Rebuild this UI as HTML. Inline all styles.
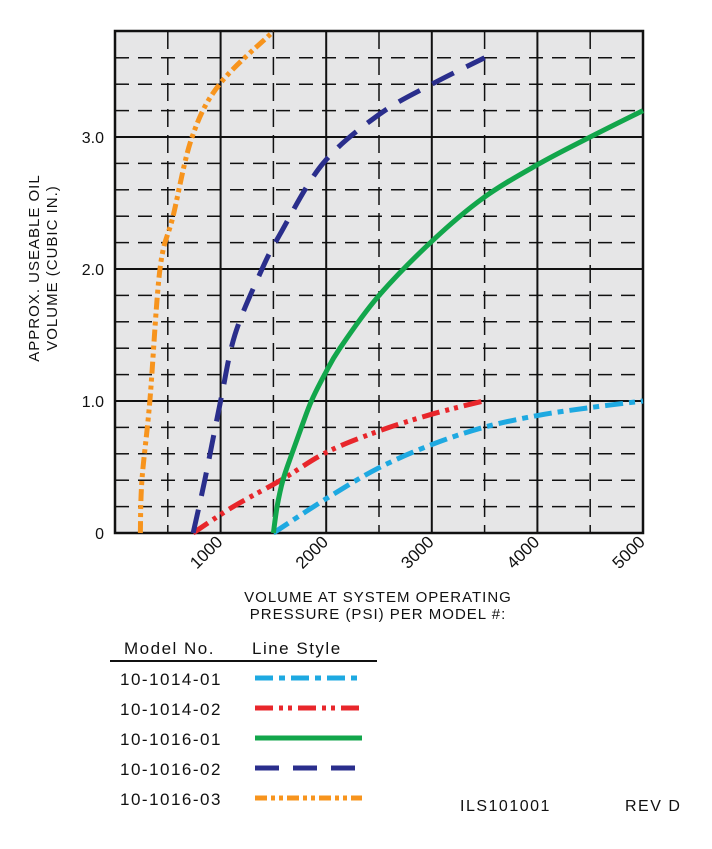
<!DOCTYPE html>
<html><head><meta charset="utf-8"><style>
body{margin:0;background:#fff;width:712px;height:844px;overflow:hidden}
svg text{font-family:"Liberation Sans",sans-serif;fill:#111}
</style></head><body>
<svg id="chart" width="712" height="844" xmlns="http://www.w3.org/2000/svg">
<g id="grid"></g>
<g id="series"></g>
<g id="axes"></g>
<text transform="translate(45,268) rotate(-90)" text-anchor="middle" font-size="15" letter-spacing="1"><tspan x="0" y="-6">APPROX. USEABLE OIL</tspan><tspan x="0" y="12">VOLUME (CUBIC IN.)</tspan></text>
<text text-anchor="middle" font-size="15" letter-spacing="1"><tspan x="378" y="602">VOLUME AT SYSTEM OPERATING</tspan><tspan x="378" y="619">PRESSURE (PSI) PER MODEL #:</tspan></text>
<g id="legend">
<text x="124" y="654" font-size="17" letter-spacing="1.5">Model No.</text>
<text x="252" y="654" font-size="17" letter-spacing="1.5">Line Style</text>
<line x1="110" y1="661" x2="377" y2="661" stroke="#111" stroke-width="2"/>
</g>
<text x="460" y="811" font-size="16" letter-spacing="1.5">ILS101001</text>
<text x="625" y="811" font-size="16" letter-spacing="1.5">REV D</text>
</svg>
<script>
const models=["10-1014-01","10-1014-02","10-1016-01","10-1016-02","10-1016-03"];
const colors=["#1ea9e1","#e8262b","#12a64b","#2a2e8c","#f7941d"];
const dashes=["18 6 6 6","18 6 4 5 4 6","none","24 14","12 4 4 4 4 4"];
const psi0=[1500,2000,2490,3000,3490,4000,4500,5000];
const vol0=[0,0.26,0.49,0.67,0.8,0.89,0.95,1.0];
const psi1=[740,1120,1570,2000,2490,3000,3490];
const vol1=[0,0.2,0.4,0.61,0.77,0.9,1.0];
const psi2=[1500,1535,1590,1675,1765,1860,1985,2130,2490,3000,3490,4000,4500,5000];
const vol2=[0,0.2,0.4,0.6,0.8,1.0,1.2,1.4,1.79,2.21,2.54,2.79,3.0,3.2];
const psi3=[740,850,1000,1135,1370,1560,1970,2500,3000,3500];
const vol3=[0,0.4,1.0,1.5,1.96,2.26,2.8,3.17,3.4,3.6];
const psi4=[240,255,330,426,550,730,990,1500];
const vol4=[0,0.4,1.0,2.0,2.4,3.0,3.4,3.8];
const xTicks=[1000,2000,3000,4000,5000];
const yTicks=[0,1.0,2.0,3.0];
const yTickLabels=["0","1.0","2.0","3.0"];
const X0=115,X1=643,Y0=533,YT=31;
const xs=v=>X0+v*(X1-X0)/5000;
const ys=v=>Y0-v*132;
const NS="http://www.w3.org/2000/svg";
function mk(t,a,p){const e=document.createElementNS(NS,t);for(const k in a)e.setAttribute(k,a[k]);p.appendChild(e);return e;}
const grid=document.getElementById('grid');
const bg=mk('rect',{x:X0,y:YT,width:X1-X0,height:Y0-YT,fill:'#e6e6e7'},grid);


for(let v=0.2;v<3.8;v+=0.2){const major=Math.abs(v-Math.round(v))<1e-6;
 const l=mk('line',{x1:X0,x2:X1,y1:ys(v),y2:ys(v),stroke:'#111','stroke-width':major?2:1.5,'stroke-dasharray':major?'none':'14 9'},grid);
 
 }
for(let p=500;p<5000;p+=500){const major=p%1000===0;
 const l=mk('line',{x1:xs(p),x2:xs(p),y1:YT,y2:Y0,stroke:'#111','stroke-width':major?2:1.5,'stroke-dasharray':major?'none':'18 8'},grid);
 
 }
const fr=mk('rect',{x:X0,y:YT,width:X1-X0,height:Y0-YT,fill:'none',stroke:'#111','stroke-width':2.5},grid);


const axes=document.getElementById('axes');
yTicks.forEach((v,i)=>{const t=mk('text',{x:104,y:ys(v)+6,'text-anchor':'end','font-size':16},axes);t.textContent=yTickLabels[i];
 
 });
xTicks.forEach(v=>{const t=mk('text',{transform:`translate(${xs(v)+3},${Y0+10}) rotate(-45)`,'text-anchor':'end','font-size':17},axes);t.textContent=v;
 
 });
function path(P,V){const pts=P.map((p,i)=>[xs(p),ys(V[i])]);let d=`M${pts[0][0]},${pts[0][1]}`;
 for(let i=0;i<pts.length-1;i++){const p0=pts[i-1]||pts[i],p1=pts[i],p2=pts[i+1],p3=pts[i+2]||p2;
  d+=` C${p1[0]+(p2[0]-p0[0])/6},${p1[1]+(p2[1]-p0[1])/6} ${p2[0]-(p3[0]-p1[0])/6},${p2[1]-(p3[1]-p1[1])/6} ${p2[0]},${p2[1]}`;}
 return d;}
const data=[[psi0,vol0],[psi1,vol1],[psi2,vol2],[psi3,vol3],[psi4,vol4]];
const series=document.getElementById('series');
const legend=document.getElementById('legend');
data.forEach((s,i)=>{
 const p=mk('path',{d:path(s[0],s[1]),fill:'none',stroke:colors[i],'stroke-width':5,'stroke-dasharray':dashes[i]},series);
 
 
 const y=678+i*30;
 const t=mk('text',{x:120,y:y+7,'font-size':17,'letter-spacing':1.5},legend);t.textContent=models[i];
 
 
 const l=mk('line',{x1:255,x2:362,y1:y,y2:y,stroke:colors[i],'stroke-width':5,'stroke-dasharray':dashes[i]},legend);
 
 
});
</script>
</body></html>
